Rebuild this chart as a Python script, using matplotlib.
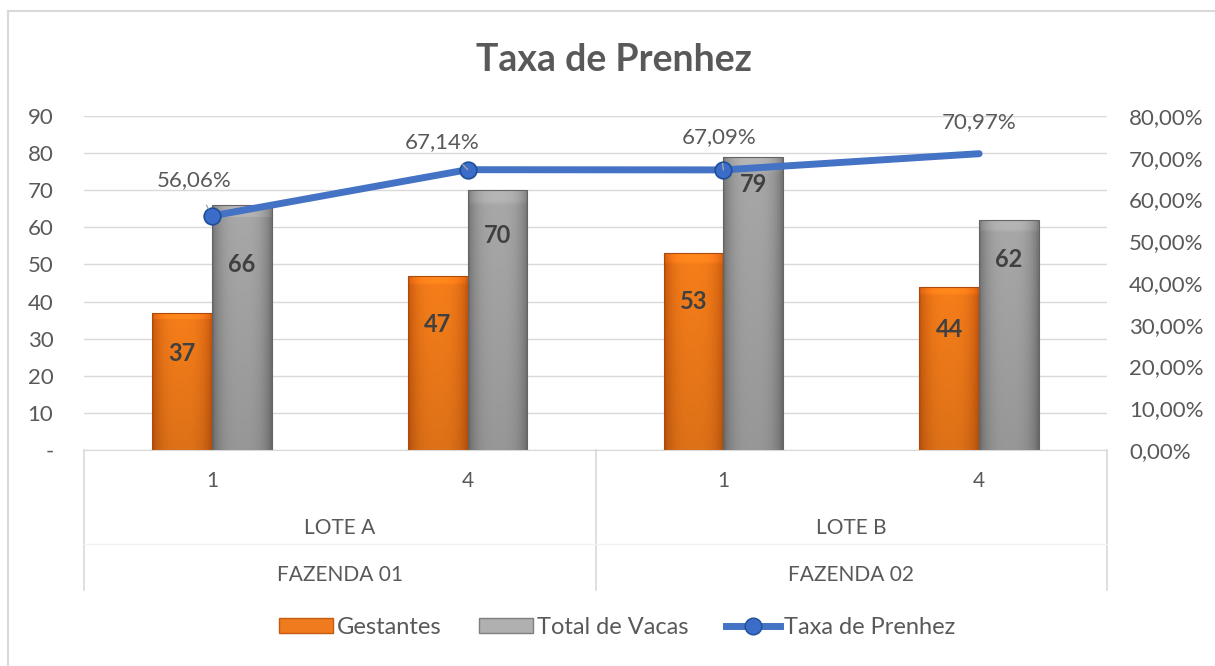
import numpy as np
import matplotlib.pyplot as plt
from matplotlib.patches import Rectangle
from matplotlib.lines import Line2D
from matplotlib.transforms import blended_transform_factory

plt.rcParams['font.family'] = ['Lato', 'DejaVu Sans']

# data
lotes = ['1', '4', '1', '4']
grupos_lote = ['LOTE A', 'LOTE B']
fazendas = ['FAZENDA 01', 'FAZENDA 02']
gestantes = [37, 47, 53, 44]
total_vacas = [66, 70, 79, 62]
taxa = [0.5606, 0.6714, 0.6709, 0.7097]

# label tweaks (pixels)
bar_lbl_drop = [[41, 49, 48, 43], [59, 45, 28, 40]]
pct_offsets = [(-18, 36), (-26, 28), (-4, 33), (0, 32)]

txt = '#595959'
W, H = 1215, 666
fig = plt.figure(figsize=(W / 100, H / 100), dpi=100)
ax = fig.add_axes([84 / W, (H - 450) / H, (1107 - 84) / W, (450 - 116) / H])

x = np.arange(len(lotes))
bw = 0.234


def grad_bar(ax, x0, h, c_mid, c_edge):
    # horizontal bevel-like gradient clipped to the bar
    n = 60
    t = np.linspace(-1, 1, n)
    prof = 1 - np.abs(t) ** 3
    prof[:2] = 0
    prof[-2:] = 0
    cm = np.array(c_mid) / 255
    ce = np.array(c_edge) / 255
    row = ce[None, :] + (cm - ce)[None, :] * prof[:, None]
    vert = np.linspace(1.0, 0.9, 40)
    img = row[None, :, :] * vert[:, None, None]
    img[:2] *= 1.08
    img = np.clip(img, 0, 1)
    rect = Rectangle((x0, 0), bw, h, facecolor='none', edgecolor=ce * 0.85, lw=0.8, zorder=3)
    ax.add_patch(rect)
    im = ax.imshow(img, extent=(x0, x0 + bw, 0, h), aspect='auto', origin='upper', zorder=2)
    im.set_clip_path(rect)


for i in range(len(x)):
    grad_bar(ax, x[i] - bw, gestantes[i], (246, 126, 26), (200, 88, 14))
    grad_bar(ax, x[i], total_vacas[i], (168, 168, 168), (118, 118, 118))
    ax.annotate(str(gestantes[i]), (x[i] - bw / 2, gestantes[i]), xytext=(0, -bar_lbl_drop[0][i]),
                textcoords='offset pixels', ha='center', va='center', fontsize=17,
                fontweight='bold', color='#404040', zorder=5)
    ax.annotate(str(total_vacas[i]), (x[i] + bw / 2, total_vacas[i]), xytext=(0, -bar_lbl_drop[1][i]),
                textcoords='offset pixels', ha='center', va='center', fontsize=17,
                fontweight='bold', color='#404040', zorder=5)

ax.set_xlim(-0.5, len(x) - 0.5)
ax.set_ylim(0, 90)
ax.set_yticks(np.arange(0, 91, 10))
ax.set_yticklabels(['-'] + [str(v) for v in range(10, 91, 10)])
ax.grid(axis='y', color='#d9d9d9', lw=1, zorder=0)
ax.set_axisbelow(True)
ax.tick_params(axis='y', length=0, pad=22, labelsize=16, labelcolor=txt)
ax.set_xticks([])
for s in ['top', 'right', 'left']:
    ax.spines[s].set_visible(False)
ax.spines['bottom'].set_color('#d9d9d9')

ax2 = ax.twinx()
ax2.set_ylim(0, 0.8)
pct_ticks = np.arange(0, 0.81, 0.1)
ax2.set_yticks(pct_ticks)
ax2.set_yticklabels([f'{v * 100:.2f}%'.replace('.', ',') for v in pct_ticks])
ax2.tick_params(axis='y', length=0, pad=16, labelsize=16, labelcolor=txt)
for s in ax2.spines.values():
    s.set_visible(False)
ax2.plot(x, taxa, color='#4472c4', lw=5, solid_capstyle='round', zorder=4)
ax2.plot(x[:3], taxa[:3], 'o', ms=12, mfc='#3a6cc8', mec='#1f4e99', mew=1.2, zorder=5)
for i in range(len(x)):
    lbl = f'{taxa[i] * 100:.2f}%'.replace('.', ',')
    dx, dy = pct_offsets[i]
    ap = dict(arrowstyle='-', color='#a6a6a6', lw=1, shrinkA=10, shrinkB=6) if i < 3 else None
    ax2.annotate(lbl, (x[i], taxa[i]), xytext=(dx, dy), textcoords='offset pixels',
                 ha='center', va='center', fontsize=16, color=txt, arrowprops=ap, zorder=6)

# multi-level category axis
tr = blended_transform_factory(ax.transData, ax.transAxes)
for i, l in enumerate(lotes):
    ax.text(x[i], -0.093, l, transform=tr, ha='center', va='center', fontsize=15, color=txt)
for j in range(2):
    ax.text(2 * j + 0.5, -0.2335, grupos_lote[j], transform=tr, ha='center', va='center',
            fontsize=15, color=txt)
    ax.text(2 * j + 0.5, -0.374, fazendas[j], transform=tr, ha='center', va='center',
            fontsize=15, color=txt)
for xv in [-0.5, 1.5, 3.5]:
    ax.plot([xv, xv], [0, -0.419], transform=tr, color='#d9d9d9', lw=1.2, clip_on=False)
ax.plot([-0.5, 3.5], [-0.28, -0.28], transform=tr, color='#f2f2f2', lw=1, clip_on=False)

fig.suptitle('Taxa de Prenhez', x=614 / W, y=1 - 60 / H, va='center', fontsize=27,
             fontweight='bold', color=txt)

# outer chart border
fig.add_artist(Line2D([8 / W, 8 / W], [0, 1 - 11 / H], color='#d9d9d9', lw=1.5))
fig.add_artist(Line2D([8 / W, 1], [1 - 11 / H, 1 - 11 / H], color='#d9d9d9', lw=1.5))

handles = [Rectangle((0, 0), 1, 1, fc='#f07a1e', ec='#c55a11'),
           Rectangle((0, 0), 1, 1, fc='#b0b0b0', ec='#7f7f7f'),
           Line2D([], [], color='#4472c4', lw=5, marker='o', ms=12, mfc='#3a6cc8', mec='#1f4e99')]
fig.legend(handles, ['Gestantes', 'Total de Vacas', 'Taxa de Prenhez'], loc='center',
           bbox_to_anchor=(617 / W, 1 - 627 / H), ncol=3, frameon=False, fontsize=17,
           labelcolor=txt, handlelength=2.3, handleheight=0.6, handletextpad=0.15,
           columnspacing=1.6)

fig.savefig('out.png', dpi=100)
